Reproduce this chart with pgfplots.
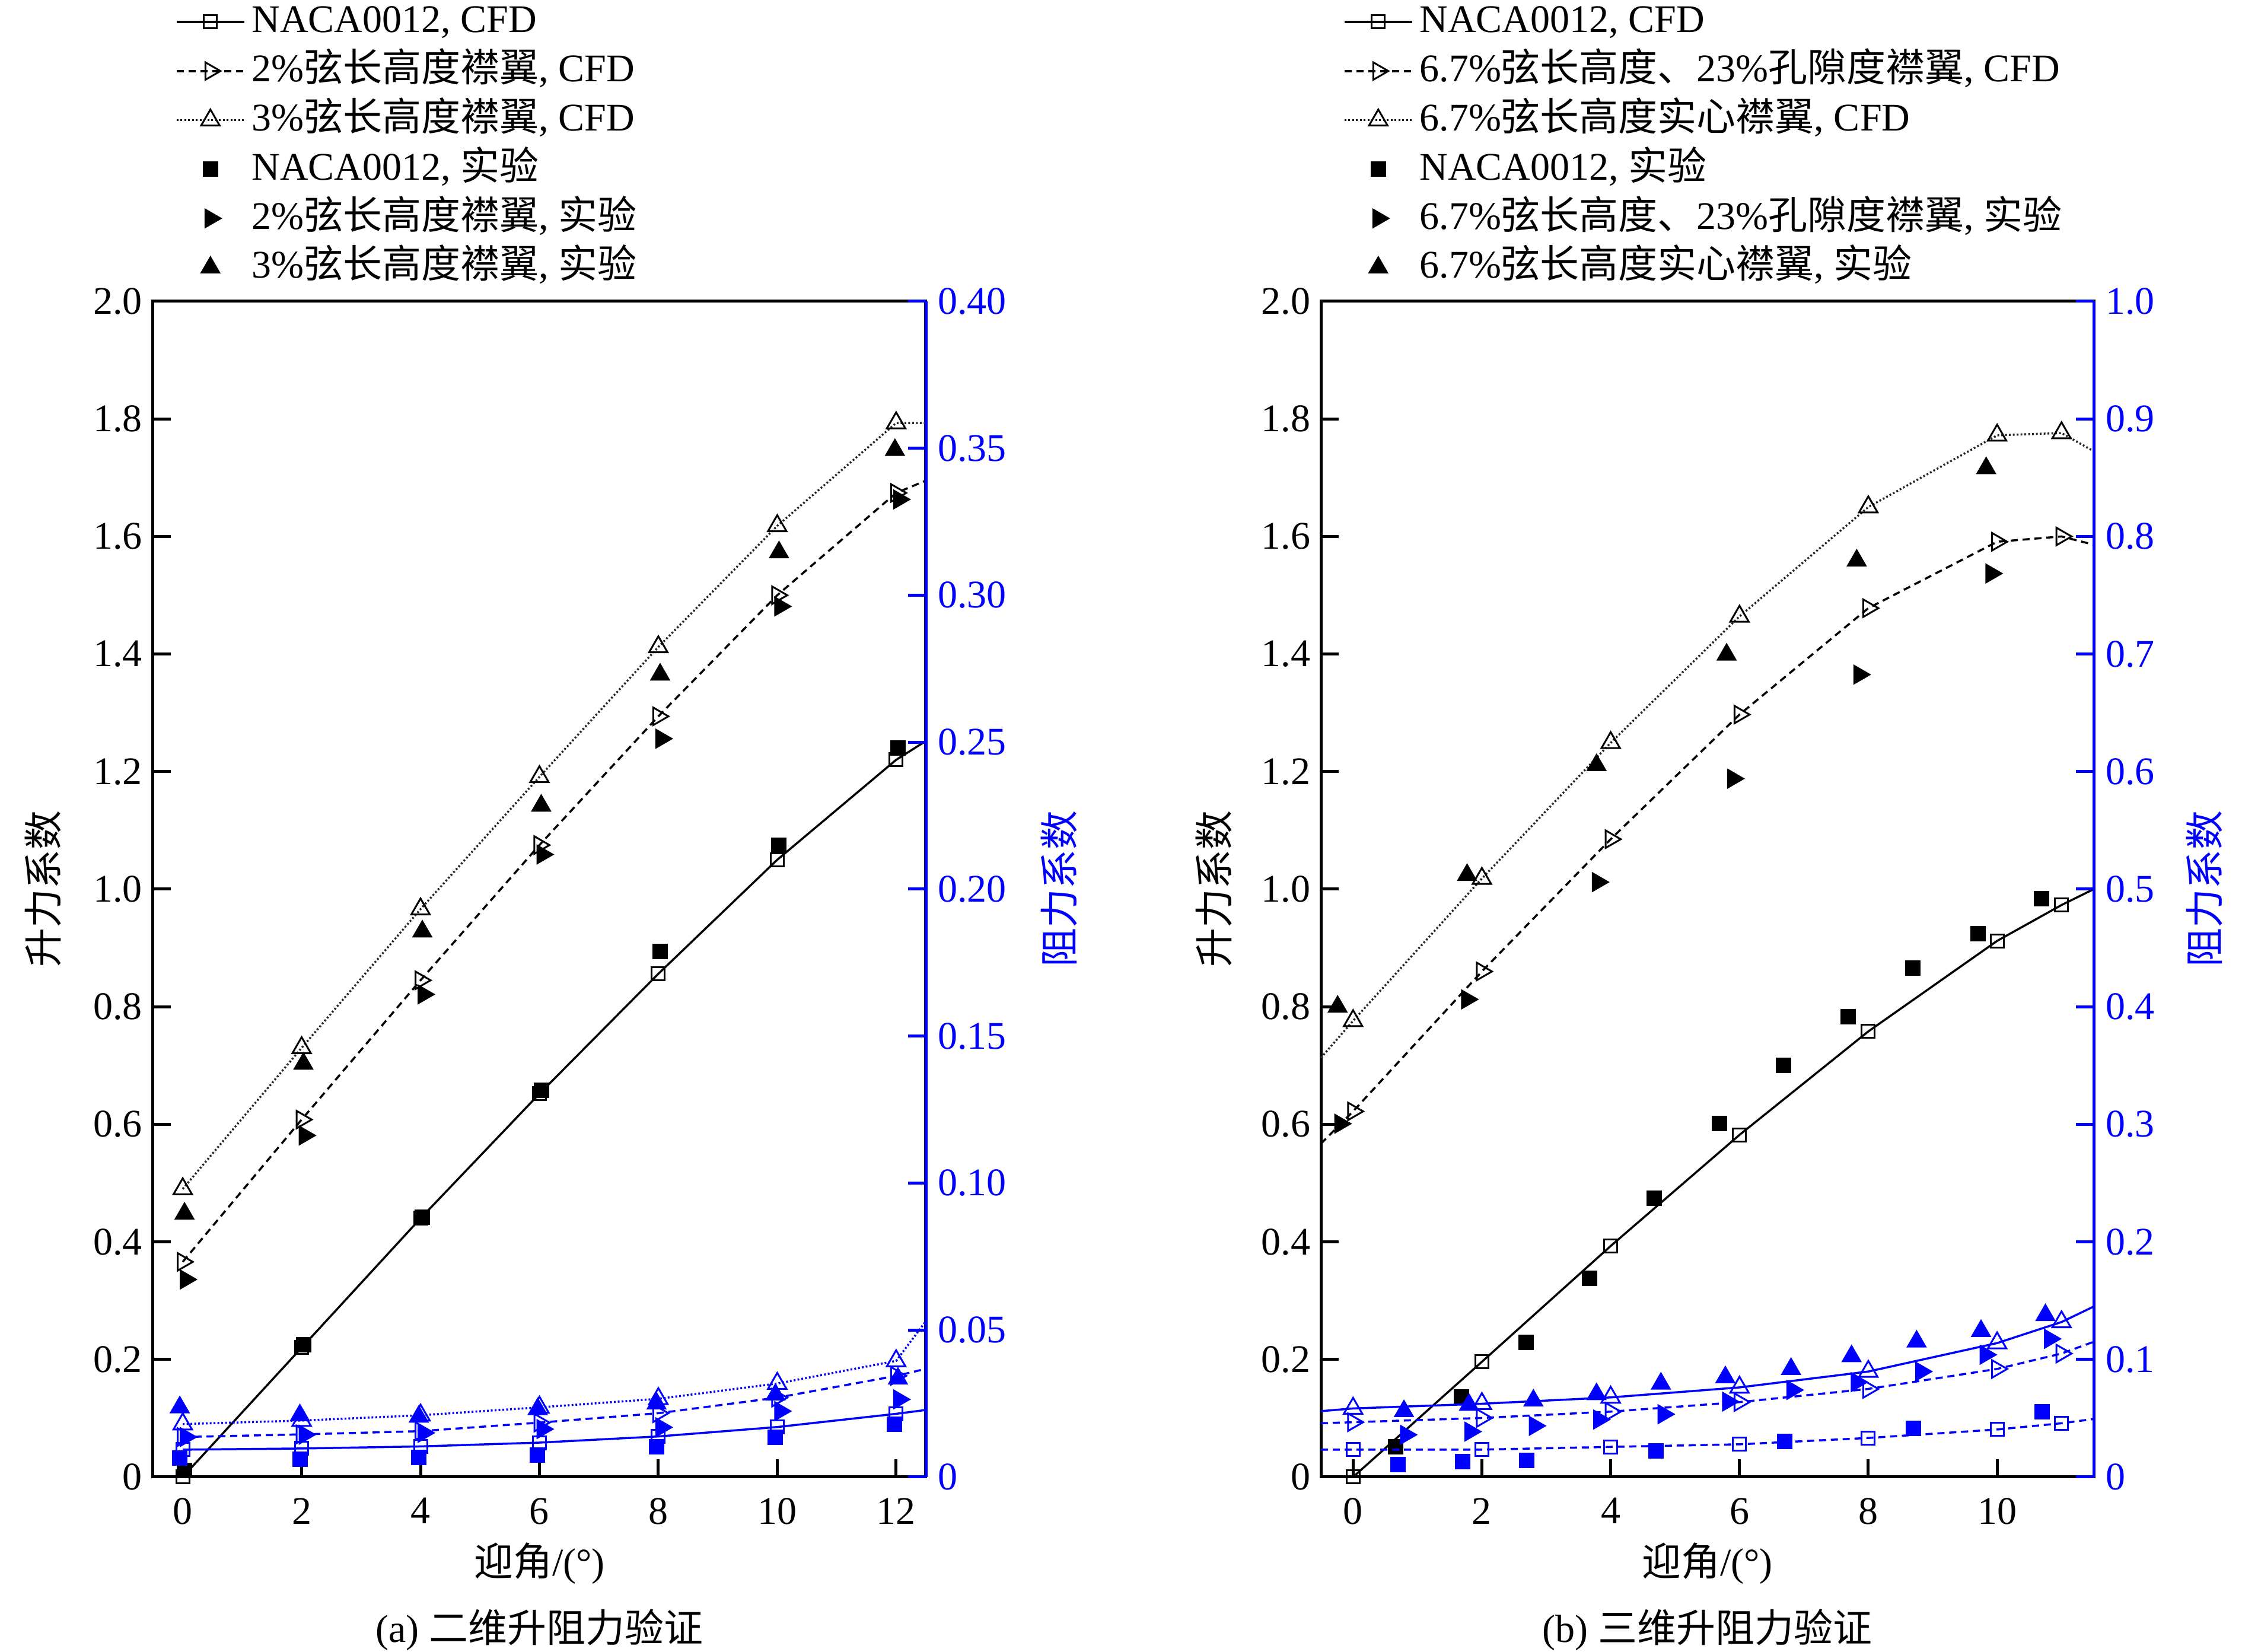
\documentclass[border=0pt]{standalone}
\usepackage{fontspec}
\setmainfont{Liberation Serif}
\newfontfamily\cjk{Noto Sans CJK SC}
\usepackage{pgfplots}
\pgfplotsset{compat=1.18}
\newcommand{\fs}{\fontsize{6.6}{7.9}\selectfont}
\pgfplotsset{
 lnA/.style={line width=0.35pt, solid},
 lnB/.style={line width=0.35pt, dash pattern=on 1.2pt off 0.8pt},
 lnC/.style={line width=0.35pt, dash pattern=on 0.3pt off 0.35pt},
 mkSq/.style={mark=square, mark size=1.1pt, mark options={solid, fill=white, line width=0.3pt}},
 mkRt/.style={mark=triangle, mark size=1.7pt, mark options={solid, fill=white, rotate=-90, line width=0.3pt}},
 mkUp/.style={mark=triangle, mark size=1.8pt, mark options={solid, fill=white, line width=0.3pt}},
 mkSqF/.style={mark=square*, mark size=1.1pt, mark options={solid}},
 mkRtF/.style={mark=triangle*, mark size=1.6pt, mark options={solid, rotate=-90}},
 mkUpF/.style={mark=triangle*, mark size=1.6pt, mark options={solid}},
 base/.style={
   scale only axis, width=130.3pt, height=198.2pt, anchor=south west,
   clip=false, tick align=inside, major tick length=3pt,
   /pgf/number format/assume math mode=true,
   tick label style={font=\fs}, label style={font=\fs}, title style={font=\fs},
   legend style={font=\fs},
 },
 lift/.style={
   base, ymin=0, ymax=2.0,
   ytick={0,0.2,0.4,0.6,0.8,1.0,1.2,1.4,1.6,1.8,2.0},
   yticklabels={0,0.2,0.4,0.6,0.8,1.0,1.2,1.4,1.6,1.8,2.0},
   yticklabel style={inner xsep=1.6pt},
   xtick pos=bottom, ytick pos=left,
   axis line style={line width=0.5pt, black},
   every tick/.style={black, line width=0.5pt},
   xlabel={{\cjk 迎角}/(°)},
   xlabel style={at={(rel axis cs:0.5,0)}, anchor=center, yshift=-14.6pt},
   ylabel={\cjk 升力系数},
   title style={at={(rel axis cs:0.5,0)}, anchor=center, yshift=-31.8pt},
   legend cell align=left,
   legend image code/.code={\draw[mark repeat=2,mark phase=2,##1] plot coordinates {(0pt,0pt) (5.7pt,0pt) (11.4pt,0pt)};},
   legend style={draw=none, fill=none, inner sep=0pt, at={(rel axis cs:0,1)}, anchor=south west,
     xshift=3.6pt, yshift=2pt, row sep=1.28pt, column sep=0.6pt,
     nodes={inner sep=0.5pt, text height=4.8pt, text depth=1.2pt}},
 },
 drag/.style={
   base, axis x line=none, axis y line*=right,
   y axis line style={blue, line width=0.5pt, -},
   ytick style={blue, line width=0.5pt},
   yticklabel style={blue, inner xsep=1.8pt},
   ylabel={\cjk 阻力系数},
 },
}
\begin{document}
\begin{tikzpicture}[font=\fs]
\path[use as bounding box] (0,0) rectangle (378pt,278.5pt);
% ================= (a) lift =================
\begin{axis}[lift, at={(25.8pt,29.5pt)},
  xmin=-0.5, xmax=12.5, xtick={0,2,4,6,8,10,12},
  ylabel style={at={(rel axis cs:0,0.5)}, anchor=center, yshift=18.5pt},
  title={(a) {\cjk 二维升阻力验证}}]
\addlegendimage{black, lnA, mkSq}\addlegendentry{NACA0012, CFD}
\addlegendimage{black, lnB, mkRt}\addlegendentry{2\%{\cjk 弦长高度襟翼}, CFD}
\addlegendimage{black, lnC, mkUp}\addlegendentry{3\%{\cjk 弦长高度襟翼}, CFD}
\addlegendimage{black, only marks, mkSqF}\addlegendentry{NACA0012, {\cjk 实验}}
\addlegendimage{black, only marks, mkRtF}\addlegendentry{2\%{\cjk 弦长高度襟翼}, {\cjk 实验}}
\addlegendimage{black, only marks, mkUpF}\addlegendentry{3\%{\cjk 弦长高度襟翼}, {\cjk 实验}}
\addplot[black, lnA, forget plot] coordinates {(0,0) (2,0.22) (4,0.44) (6,0.652) (8,0.856) (10,1.05) (12,1.22) (12.5,1.252)};
\addplot[black, lnB, forget plot] coordinates {(0,0.366) (2,0.608) (4,0.845) (6,1.075) (8,1.294) (10,1.50) (12,1.674) (12.5,1.695)};
\addplot[black!85, lnC, forget plot] coordinates {(0,0.49) (2,0.73) (4,0.966) (6,1.191) (8,1.412) (10,1.618) (12,1.793) (12.5,1.793)};
\addplot[black, only marks, mkSq, forget plot] coordinates {(0,0) (2,0.22) (4,0.44) (6,0.652) (8,0.856) (10,1.05) (12,1.22)};
\addplot[black, only marks, mkRt, forget plot] coordinates {(0,0.366) (2,0.608) (4,0.845) (6,1.075) (8,1.294) (10,1.50) (12,1.674)};
\addplot[black, only marks, mkUp, forget plot] coordinates {(0,0.49) (2,0.73) (4,0.966) (6,1.191) (8,1.412) (10,1.618) (12,1.793)};
\addplot[black, only marks, mkSqF, forget plot] coordinates {(0.03,0.011) (2.03,0.225) (4.03,0.442) (6.03,0.658) (8.03,0.894) (10.03,1.075) (12.03,1.24)};
\addplot[black, only marks, mkRtF, forget plot] coordinates {(0.05,0.336) (2.05,0.581) (4.05,0.821) (6.05,1.059) (8.05,1.256) (10.05,1.481) (12.05,1.663)};
\addplot[black, only marks, mkUpF, forget plot] coordinates {(0.03,0.448) (2.03,0.703) (4.03,0.928) (6.03,1.142) (8.03,1.365) (10.03,1.573) (11.98,1.747)};
\end{axis}
% ================= (a) drag =================
\begin{axis}[drag, at={(25.8pt,29.5pt)},
  xmin=-0.5, xmax=12.5, ymin=0, ymax=0.4,
  ytick={0,0.05,0.10,0.15,0.20,0.25,0.30,0.35,0.40},
  yticklabels={0,0.05,0.10,0.15,0.20,0.25,0.30,0.35,0.40},
  ylabel style={blue, at={(rel axis cs:1,0.5)}, anchor=center, yshift=-22.5pt}]
\addplot[blue, lnA] coordinates {(0,0.0093) (2,0.0097) (4,0.0104) (6,0.0117) (8,0.0138) (10,0.017) (12,0.0215) (12.5,0.0228)};
\addplot[blue, lnB] coordinates {(0,0.0136) (2,0.0145) (4,0.0156) (6,0.0185) (8,0.0217) (10,0.027) (12,0.0344) (12.5,0.0368)};
\addplot[blue, lnC] coordinates {(0,0.018) (2,0.0192) (4,0.021) (6,0.0237) (8,0.0266) (10,0.0318) (12,0.0395) (12.5,0.053)};
\addplot[blue, only marks, mkSq] coordinates {(0,0.0093) (2,0.0097) (4,0.0104) (6,0.0117) (8,0.0138) (10,0.017) (12,0.0215)};
\addplot[blue, only marks, mkRt] coordinates {(0,0.0136) (2,0.0145) (4,0.0156) (6,0.0185) (8,0.0217) (10,0.027) (12,0.0344)};
\addplot[blue, only marks, mkUp] coordinates {(0,0.018) (2,0.0192) (4,0.021) (6,0.0237) (8,0.0266) (10,0.0318) (12,0.0395)};
\addplot[blue, only marks, mkSqF] coordinates {(-0.05,0.0065) (1.97,0.006) (3.97,0.0066) (5.97,0.0075) (7.97,0.0102) (9.97,0.0136) (11.97,0.018)};
\addplot[blue, only marks, mkRtF] coordinates {(0.05,0.0136) (2.05,0.0144) (4.05,0.015) (6.05,0.0163) (8.05,0.0169) (10.05,0.0224) (12.05,0.0264)};
\addplot[blue, only marks, mkUpF] coordinates {(-0.05,0.0237) (1.97,0.021) (3.97,0.0205) (5.97,0.0231) (7.97,0.025) (9.97,0.028) (12.03,0.0335)};
\end{axis}
% ================= (b) lift =================
\begin{axis}[lift, at={(222.7pt,29.5pt)},
  xmin=-0.5, xmax=11.5, xtick={0,2,4,6,8,10},
  ylabel style={at={(rel axis cs:0,0.5)}, anchor=center, yshift=18pt},
  title={(b) {\cjk 三维升阻力验证}}]
\addlegendimage{black, lnA, mkSq}\addlegendentry{NACA0012, CFD}
\addlegendimage{black, lnB, mkRt}\addlegendentry{6.7\%{\cjk 弦长高度、}23\%{\cjk 孔隙度襟翼}, CFD}
\addlegendimage{black, lnC, mkUp}\addlegendentry{6.7\%{\cjk 弦长高度实心襟翼}, CFD}
\addlegendimage{black, only marks, mkSqF}\addlegendentry{NACA0012, {\cjk 实验}}
\addlegendimage{black, only marks, mkRtF}\addlegendentry{6.7\%{\cjk 弦长高度、}23\%{\cjk 孔隙度襟翼}, {\cjk 实验}}
\addlegendimage{black, only marks, mkUpF}\addlegendentry{6.7\%{\cjk 弦长高度实心襟翼}, {\cjk 实验}}
\addplot[black, lnA, forget plot] coordinates {(0,0) (2,0.196) (4,0.393) (6,0.582) (8,0.758) (10,0.912) (11,0.973) (11.5,1.0)};
\addplot[black, lnB, forget plot] coordinates {(-0.5,0.567) (0,0.622) (2,0.86) (4,1.085) (6,1.297) (8,1.478) (10,1.591) (11,1.60) (11.5,1.586)};
\addplot[black!85, lnC, forget plot] coordinates {(-0.5,0.713) (0,0.776) (2,1.018) (4,1.249) (6,1.464) (8,1.65) (10,1.772) (11,1.776) (11.5,1.745)};
\addplot[black, only marks, mkSq, forget plot] coordinates {(0,0) (2,0.196) (4,0.393) (6,0.582) (8,0.758) (10,0.912) (11,0.973)};
\addplot[black, only marks, mkRt, forget plot] coordinates {(0,0.622) (2,0.86) (4,1.085) (6,1.297) (8,1.478) (10,1.591) (11,1.60)};
\addplot[black, only marks, mkUp, forget plot] coordinates {(0,0.776) (2,1.018) (4,1.249) (6,1.464) (8,1.65) (10,1.772) (11,1.776)};
\addplot[black, only marks, mkSqF, forget plot] coordinates {(0.66,0.051) (1.68,0.136) (2.69,0.229) (3.67,0.338) (4.68,0.474) (5.69,0.601) (6.68,0.70) (7.69,0.783) (8.69,0.866) (9.7,0.924) (10.69,0.984)};
\addplot[black, only marks, mkRtF, forget plot] coordinates {(-0.2,0.601) (1.77,0.8125) (3.8,1.012) (5.9,1.188) (7.86,1.365) (9.91,1.537)};
\addplot[black, only marks, mkUpF, forget plot] coordinates {(-0.24,0.80) (1.77,1.024) (3.78,1.211) (5.80,1.399) (7.82,1.559) (9.83,1.716)};
\end{axis}
% ================= (b) drag =================
\begin{axis}[drag, at={(222.7pt,29.5pt)},
  xmin=-0.5, xmax=11.5, ymin=0, ymax=1.0,
  ytick={0,0.1,0.2,0.3,0.4,0.5,0.6,0.7,0.8,0.9,1.0},
  yticklabels={0,0.1,0.2,0.3,0.4,0.5,0.6,0.7,0.8,0.9,1.0},
  ylabel style={blue, at={(rel axis cs:1,0.5)}, anchor=center, yshift=-18.7pt}]
\addplot[blue, lnB] coordinates {(-0.5,0.0233) (0,0.0233) (2,0.0233) (4,0.0256) (6,0.0278) (8,0.0332) (10,0.0404) (11,0.0457) (11.5,0.0493)};
\addplot[blue, lnB] coordinates {(-0.5,0.0457) (0,0.0466) (2,0.0502) (4,0.0556) (6,0.0637) (8,0.0749) (10,0.0919) (11,0.105) (11.5,0.115)};
\addplot[blue, lnA] coordinates {(-0.5,0.056) (0,0.0583) (2,0.0623) (4,0.0677) (6,0.0762) (8,0.0897) (10,0.1139) (11,0.1318) (11.5,0.145)};
\addplot[blue, only marks, mkSq] coordinates {(0,0.0233) (2,0.0233) (4,0.0256) (6,0.0278) (8,0.0332) (10,0.0404) (11,0.0457)};
\addplot[blue, only marks, mkRt] coordinates {(0,0.0466) (2,0.0502) (4,0.0556) (6,0.0637) (8,0.0749) (10,0.0919) (11,0.105)};
\addplot[blue, only marks, mkUp] coordinates {(0,0.0583) (2,0.0623) (4,0.0677) (6,0.0762) (8,0.0897) (10,0.1139) (11,0.1318)};
\addplot[blue, only marks, mkSqF] coordinates {(0.7,0.0108) (1.7,0.013) (2.7,0.0143) (4.7,0.022) (6.7,0.0305) (8.7,0.0413) (10.7,0.0556)};
\addplot[blue, only marks, mkRtF] coordinates {(0.82,0.0359) (1.82,0.0386) (2.82,0.0435) (3.82,0.0489) (4.82,0.0534) (5.82,0.0641) (6.82,0.074) (7.82,0.0807) (8.82,0.0897) (9.82,0.104) (10.82,0.1175)};
\addplot[blue, only marks, mkUpF] coordinates {(0.79,0.056) (1.8,0.0614) (2.8,0.065) (3.78,0.0704) (4.78,0.0794) (5.78,0.0848) (6.8,0.0919) (7.74,0.1027) (8.75,0.1152) (9.75,0.1242) (10.75,0.1377)};
\end{axis}
\end{tikzpicture}
\end{document}
